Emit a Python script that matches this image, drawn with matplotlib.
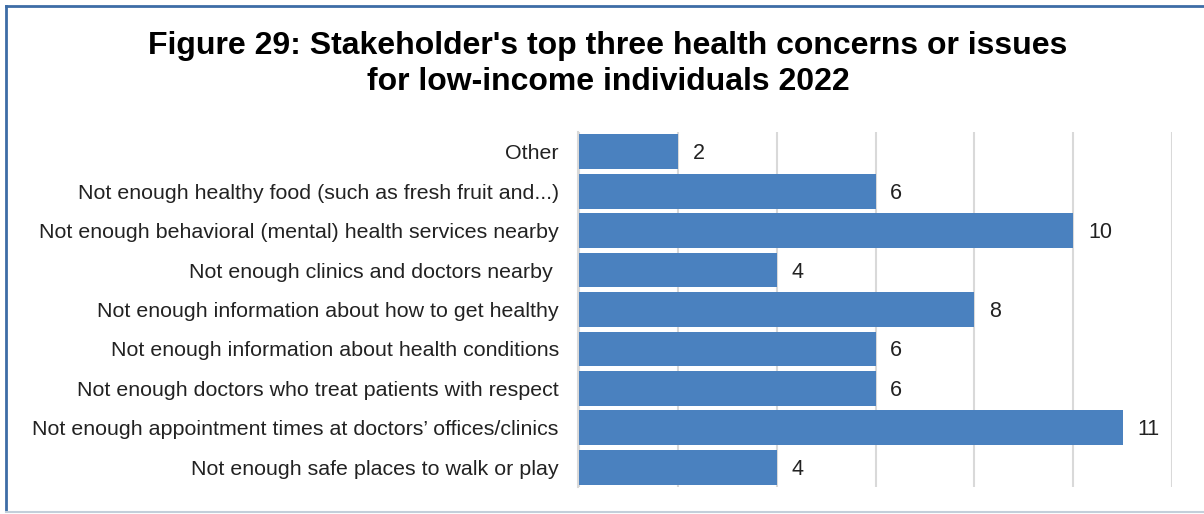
import matplotlib.pyplot as plt
from matplotlib.lines import Line2D

categories = [
    "Other",
    "Not enough healthy food (such as fresh fruit and...)",
    "Not enough behavioral (mental) health services nearby",
    "Not enough clinics and doctors nearby ",
    "Not enough information about how to get healthy",
    "Not enough information about health conditions",
    "Not enough doctors who treat patients with respect",
    "Not enough appointment times at doctors\u2019 offices/clinics",
    "Not enough safe places to walk or play",
]
values = [2, 6, 10, 4, 8, 6, 6, 11, 4]

plt.rcParams['font.family'] = ['Liberation Sans', 'DejaVu Sans']

W, H = 1204, 514
fig = plt.figure(figsize=(W / 100, H / 100), dpi=100)
ax = fig.add_axes([579 / W, 1 - 487 / H, (1172 - 579) / W, (487 - 132) / H])

ypos = list(range(len(categories)))[::-1]
ax.barh(ypos, values, height=0.88, color='#4A81BF', zorder=3)
for y, v in zip(ypos, values):
    ax.text(v + 0.3, y - 0.05, str(v), va='center', ha='left',
            fontsize=15.5, color='#222222')

ax.set_xlim(0, 12)
ax.set_ylim(-0.5, len(categories) - 0.5)
ax.set_yticks(ypos)
ax.set_yticklabels(categories, fontsize=15.4, color='#222222')
ax.set_xticks([0, 2, 4, 6, 8, 10, 12])
ax.set_xticklabels([])
ax.tick_params(axis='y', length=0, pad=14.5)
ax.tick_params(axis='x', length=0)
ax.grid(axis='x', color='#D9D9D9', linewidth=1.5, zorder=0)
ax.axvline(-0.03, color='#D9D9D9', linewidth=1.5, zorder=2, clip_on=False)
for s in ax.spines.values():
    s.set_visible(False)

fig.text(608 / W, 1 - 64 / H,
         "Figure 29: Stakeholder's top three health concerns or issues\nfor low-income individuals 2022",
         ha='center', va='center', fontsize=23, fontweight='bold',
         linespacing=1.25, color='black')

# frame around the figure
fig.add_artist(Line2D([6 / W, 6 / W], [1 - 6 / H, 1 - 511 / H],
                      transform=fig.transFigure, color='#3D6DA6', linewidth=2))
fig.add_artist(Line2D([6 / W, 1], [1 - 6 / H, 1 - 6 / H],
                      transform=fig.transFigure, color='#3D6DA6', linewidth=2))
fig.add_artist(Line2D([6 / W, 1], [1 - 512 / H, 1 - 512 / H],
                      transform=fig.transFigure, color='#C3CFDA', linewidth=1.5))

fig.savefig('out.png', dpi=100)
